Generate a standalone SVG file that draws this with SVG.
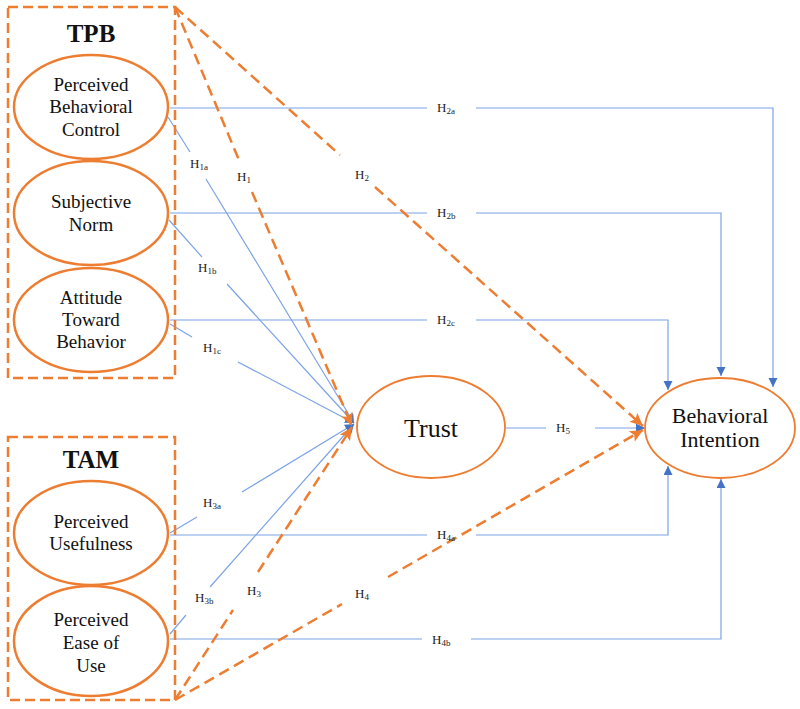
<svg xmlns="http://www.w3.org/2000/svg" width="800" height="709" viewBox="0 0 800 709">
<style>
.box{fill:none;stroke:#ED7D31;stroke-width:2.5;stroke-dasharray:10 5}
.el{fill:#fff;stroke:#ED7D31;stroke-width:2.5}
.el2{fill:#fff;stroke:#ED7D31;stroke-width:1.8}
.bl{fill:none;stroke:#7BA3E6;stroke-width:1.2}
.od{fill:none;stroke:#ED7D31;stroke-width:2.5;stroke-dasharray:11 6}
.t{font-family:"Liberation Serif","Times New Roman",serif;font-size:19px;fill:#111;text-anchor:middle}
.big{font-family:"Liberation Serif","Times New Roman",serif;font-size:22px;fill:#111;text-anchor:middle}
.hd{font-family:"Liberation Serif","Times New Roman",serif;font-size:25px;font-weight:bold;fill:#111;text-anchor:middle}
.h{font-family:"Liberation Serif","Times New Roman",serif;font-size:13px;fill:#222}
.s{font-size:9px}
</style>
<defs>
<marker id="ab" markerUnits="userSpaceOnUse" markerWidth="12" markerHeight="12" refX="9" refY="4.5" orient="auto"><path d="M0,0 L9,4.5 L0,9 Z" fill="#4472C4"/></marker>
<marker id="ao" markerUnits="userSpaceOnUse" markerWidth="16" markerHeight="16" refX="13" refY="6" orient="auto"><path d="M0,0 L13,6 L0,12 L3,6 Z" fill="#ED7D31"/></marker>
</defs>
<g id="connectors">
<path class="bl" d="M170,108 H427"/><path class="bl" d="M476,108 H773 V387" marker-end="url(#ab)"/>
<path class="bl" d="M170,213 H427"/><path class="bl" d="M476,213 H721 V376" marker-end="url(#ab)"/>
<path class="bl" d="M170,320 H427"/><path class="bl" d="M476,320 H668 V390" marker-end="url(#ab)"/>
<path class="bl" d="M170,535 H427"/><path class="bl" d="M476,535 H668 V466" marker-end="url(#ab)"/>
<path class="bl" d="M170,639 H422"/><path class="bl" d="M471,639 H721 V479" marker-end="url(#ab)"/>
<path class="bl" d="M506,428 H546"/><path class="bl" d="M595,428 H645" marker-end="url(#ab)"/>
<path class="bl" d="M168,117 L190,152"/><path class="bl" d="M206,179 L354,423" marker-end="url(#ab)"/>
<path class="bl" d="M169,220 L202,257"/><path class="bl" d="M227,284 L354,423" marker-end="url(#ab)"/>
<path class="bl" d="M170,324 L192,337"/><path class="bl" d="M238,362 L354,423" marker-end="url(#ab)"/>
<path class="bl" d="M170,533 L197,517"/><path class="bl" d="M242,492 L354,424" marker-end="url(#ab)"/>
<path class="bl" d="M170,634 L186,615"/><path class="bl" d="M210,587 L354,424" marker-end="url(#ab)"/>
<path class="od" d="M175,7 L239,160"/><path class="od" d="M252,192 L352,426" marker-end="url(#ao)"/>
<path class="od" d="M175,7 L340,155"/><path class="od" d="M375,187 L643,426" marker-end="url(#ao)"/>
<path class="od" d="M175,700 L233,610"/><path class="od" d="M258,572 L352,427" marker-end="url(#ao)"/>
<path class="od" d="M175,700 L342,604"/><path class="od" d="M388,577 L643,430" marker-end="url(#ao)"/>
</g>
<g id="labels">
<text class="h" x="437" y="112">H<tspan class="s" dy="2">2a</tspan></text>
<text class="h" x="437" y="217">H<tspan class="s" dy="2">2b</tspan></text>
<text class="h" x="437" y="324">H<tspan class="s" dy="2">2c</tspan></text>
<text class="h" x="437" y="539">H<tspan class="s" dy="2">4a</tspan></text>
<text class="h" x="432" y="644">H<tspan class="s" dy="2">4b</tspan></text>
<text class="h" x="556" y="432">H<tspan class="s" dy="2">5</tspan></text>
<text class="h" x="190" y="168">H<tspan class="s" dy="2">1a</tspan></text>
<text class="h" x="198" y="272">H<tspan class="s" dy="2">1b</tspan></text>
<text class="h" x="203" y="352">H<tspan class="s" dy="2">1c</tspan></text>
<text class="h" x="203" y="507">H<tspan class="s" dy="2">3a</tspan></text>
<text class="h" x="195" y="602">H<tspan class="s" dy="2">3b</tspan></text>
<text class="h" x="237" y="181">H<tspan class="s" dy="2">1</tspan></text>
<text class="h" x="355" y="179">H<tspan class="s" dy="2">2</tspan></text>
<text class="h" x="247" y="595">H<tspan class="s" dy="2">3</tspan></text>
<text class="h" x="355" y="598">H<tspan class="s" dy="2">4</tspan></text>
</g>
<g id="tpb"><rect class="box" x="8" y="7" width="167" height="371"/><text class="hd" x="91" y="42">TPB</text></g>
<g id="tam"><rect class="box" x="8" y="437" width="167" height="263"/><text class="hd" x="91" y="468">TAM</text></g>
<g id="pbc"><ellipse class="el" cx="91" cy="107" rx="77" ry="52"/><text class="t" x="91" y="91">Perceived</text><text class="t" x="91" y="113">Behavioral</text><text class="t" x="91" y="136">Control</text></g>
<g id="sn"><ellipse class="el" cx="91" cy="213" rx="77" ry="52"/><text class="t" x="91" y="208">Subjective</text><text class="t" x="91" y="231">Norm</text></g>
<g id="atb"><ellipse class="el" cx="91" cy="320" rx="77" ry="52"/><text class="t" x="91" y="304">Attitude</text><text class="t" x="91" y="326">Toward</text><text class="t" x="91" y="348">Behavior</text></g>
<g id="pu"><ellipse class="el" cx="91" cy="533" rx="77" ry="52"/><text class="t" x="91" y="528">Perceived</text><text class="t" x="91" y="550">Usefulness</text></g>
<g id="peu"><ellipse class="el" cx="91" cy="641" rx="77" ry="55"/><text class="t" x="91" y="626">Perceived</text><text class="t" x="91" y="649">Ease of</text><text class="t" x="91" y="672">Use</text></g>
<g id="trust"><ellipse class="el2" cx="431" cy="427" rx="74" ry="51"/><text class="t" x="431" y="437" style="font-size:26px">Trust</text></g>
<g id="bi"><ellipse class="el2" cx="720" cy="428" rx="75" ry="50"/><text class="big" x="720" y="423">Behavioral</text><text class="big" x="720" y="447">Intention</text></g>
</svg>
